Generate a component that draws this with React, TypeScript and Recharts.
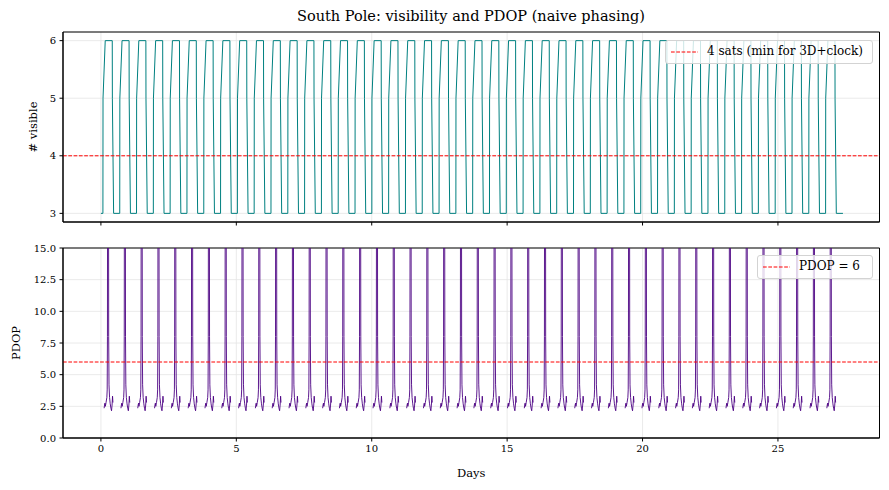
import {
  LineChart,
  Line,
  XAxis,
  YAxis,
  CartesianGrid,
  ReferenceLine,
  ReferenceArea,
} from "recharts";

// day at which each visibility pass starts (3 -> 5/6 sats)
const riseDays = [
  0.074, 0.695, 1.315, 1.936, 2.556, 3.177, 3.798, 4.418, 5.039, 5.659, 6.28,
  6.901, 7.521, 8.142, 8.762, 9.383, 10.004, 10.624, 11.245, 11.865, 12.486,
  13.107, 13.727, 14.348, 14.968, 15.589, 16.21, 16.83, 17.451, 18.071, 18.692,
  19.313, 19.933, 20.554, 21.174, 21.795, 22.416, 23.036, 23.657, 24.277,
  24.898, 25.519, 26.139, 26.76,
];
const startDay = 0;
const endDay = 27.4;

// one pass: offset in days from rise, number of visible sats
const visOffsets = [0, 0.004, 0.085, 0.345, 0.349, 0.395];
const visCounts = [3, 5, 6, 6, 5, 3];

// one pass of PDOP (only defined while >= 4 sats are visible)
const pdopOffsets = [
  0.045, 0.06, 0.075, 0.09, 0.115, 0.145, 0.158, 0.167, 0.18, 0.2, 0.213,
  0.225, 0.245, 0.27, 0.295, 0.318, 0.338, 0.355, 0.37,
];
const pdopValues = [
  2.35, 2.6, 2.75, 2.5, 2.8, 3.2, 3.8, 8, 40, 40, 8, 4.2, 3.2, 2.7, 2.35, 2.15,
  2.6, 3.3, 2.8,
];

const xTicks = [0, 5, 10, 15, 20, 25];
const visTicks = [3, 4, 5, 6];
const pdopTicks = [0, 2.5, 5, 7.5, 10, 12.5, 15];

const xDomain: [number, number] = [-1.4, 28.75];
const visDomain: [number, number] = [2.85, 6.15];
const pdopDomain: [number, number] = [0, 15];

const visData: { day: number; vis: number }[] = [{ day: startDay, vis: 3 }];
riseDays.forEach((r) => {
  visOffsets.forEach((o, i) => visData.push({ day: r + o, vis: visCounts[i] }));
});
visData.push({ day: endDay, vis: 3 });

const pdopData: { day: number; pdop: number | null }[] = [];
riseDays.forEach((r) => {
  pdopOffsets.forEach((o, i) => pdopData.push({ day: r + o, pdop: pdopValues[i] }));
  pdopData.push({ day: r + 0.4, pdop: null });
});

const font = "'DejaVu Serif', serif";
const tickStyle = { fontSize: 10, fill: "#000", fontFamily: font };
const labelStyle = { fontSize: 11.5, fill: "#000", fontFamily: font };

function LegendBox({ left, top, width, text }: { left: number; top: number; width: number; text: string }) {
  return (
    <div
      style={{
        position: "absolute",
        left,
        top,
        width,
        height: 24,
        border: "1px solid #d3d3d3",
        borderRadius: 3,
        background: "rgba(255,255,255,0.8)",
        fontFamily: font,
        fontSize: 12,
        boxSizing: "border-box",
      }}
    >
      <svg width={32} height={22} style={{ position: "absolute", left: 4, top: 0 }}>
        <line x1={1} x2={28} y1={11} y2={11} stroke="red" strokeWidth={1} strokeDasharray="3.7 1.6" />
      </svg>
      <div style={{ position: "absolute", left: 41, top: 3, whiteSpace: "nowrap" }}>{text}</div>
    </div>
  );
}

export default function App() {
  return (
    <div style={{ position: "absolute", left: 0, top: 0, width: 889, height: 490, background: "#fff" }}>
      <div
        style={{
          position: "absolute",
          left: 63,
          width: 816,
          top: 8,
          textAlign: "center",
          fontFamily: font,
          fontSize: 14.5,
        }}
      >
        South Pole: visibility and PDOP (naive phasing)
      </div>

      <div style={{ position: "absolute", left: 0, top: 0 }}>
        <LineChart width={889} height={230} data={visData} margin={{ top: 32, right: 9.5, bottom: 0, left: 0 }}>
          <CartesianGrid stroke="#e5e5e5" strokeWidth={0.8} />
          <XAxis
            dataKey="day"
            type="number"
            domain={xDomain}
            ticks={xTicks}
            tickFormatter={() => ""}
            height={8}
            tickSize={3.5}
            stroke="#000"
          />
          <YAxis
            type="number"
            domain={visDomain}
            ticks={visTicks}
            width={63}
            tickSize={3.5}
            tickMargin={3.5}
            tick={tickStyle}
            stroke="#000"
            label={{ value: "# visible", angle: -90, position: "center", dx: 1, style: labelStyle }}
          />
          <Line
            dataKey="vis"
            type="linear"
            stroke="#008080"
            strokeWidth={1}
            dot={false}
            isAnimationActive={false}
          />
          <ReferenceLine y={4} stroke="red" strokeWidth={1} strokeDasharray="3.7 1.6" />
          <ReferenceArea x1={xDomain[0]} x2={xDomain[1]} y1={visDomain[0]} y2={visDomain[1]} fill="none" stroke="#000" strokeWidth={1} />
        </LineChart>
      </div>

      <div style={{ position: "absolute", left: 0, top: 0 }}>
        <LineChart width={889} height={490} data={pdopData} margin={{ top: 248, right: 9.5, bottom: 0, left: 0 }}>
          <CartesianGrid stroke="#e5e5e5" strokeWidth={0.8} />
          <XAxis
            dataKey="day"
            type="number"
            domain={xDomain}
            ticks={xTicks}
            height={52}
            tickSize={3.5}
            tickMargin={3.5}
            tick={tickStyle}
            stroke="#000"
            label={{ value: "Days", position: "insideBottom", offset: 13, style: labelStyle }}
          />
          <YAxis
            type="number"
            domain={pdopDomain}
            ticks={pdopTicks}
            allowDataOverflow
            width={63}
            tickSize={3.5}
            tickMargin={3.5}
            tick={tickStyle}
            tickFormatter={(v: number) => v.toFixed(1)}
            stroke="#000"
            label={{ value: "PDOP", angle: -90, position: "center", dx: -16, style: labelStyle }}
          />
          <Line
            dataKey="pdop"
            type="linear"
            stroke="#4b0082"
            strokeWidth={0.9}
            dot={false}
            connectNulls={false}
            isAnimationActive={false}
          />
          <ReferenceLine y={6} stroke="red" strokeWidth={1} strokeDasharray="3.7 1.6" />
          <ReferenceArea x1={xDomain[0]} x2={xDomain[1]} y1={pdopDomain[0]} y2={pdopDomain[1]} fill="none" stroke="#000" strokeWidth={1} />
        </LineChart>
      </div>

      <LegendBox left={665} top={40} width={208} text="4 sats (min for 3D+clock)" />
      <LegendBox left={757} top={255} width={116} text="PDOP = 6" />
    </div>
  );
}
